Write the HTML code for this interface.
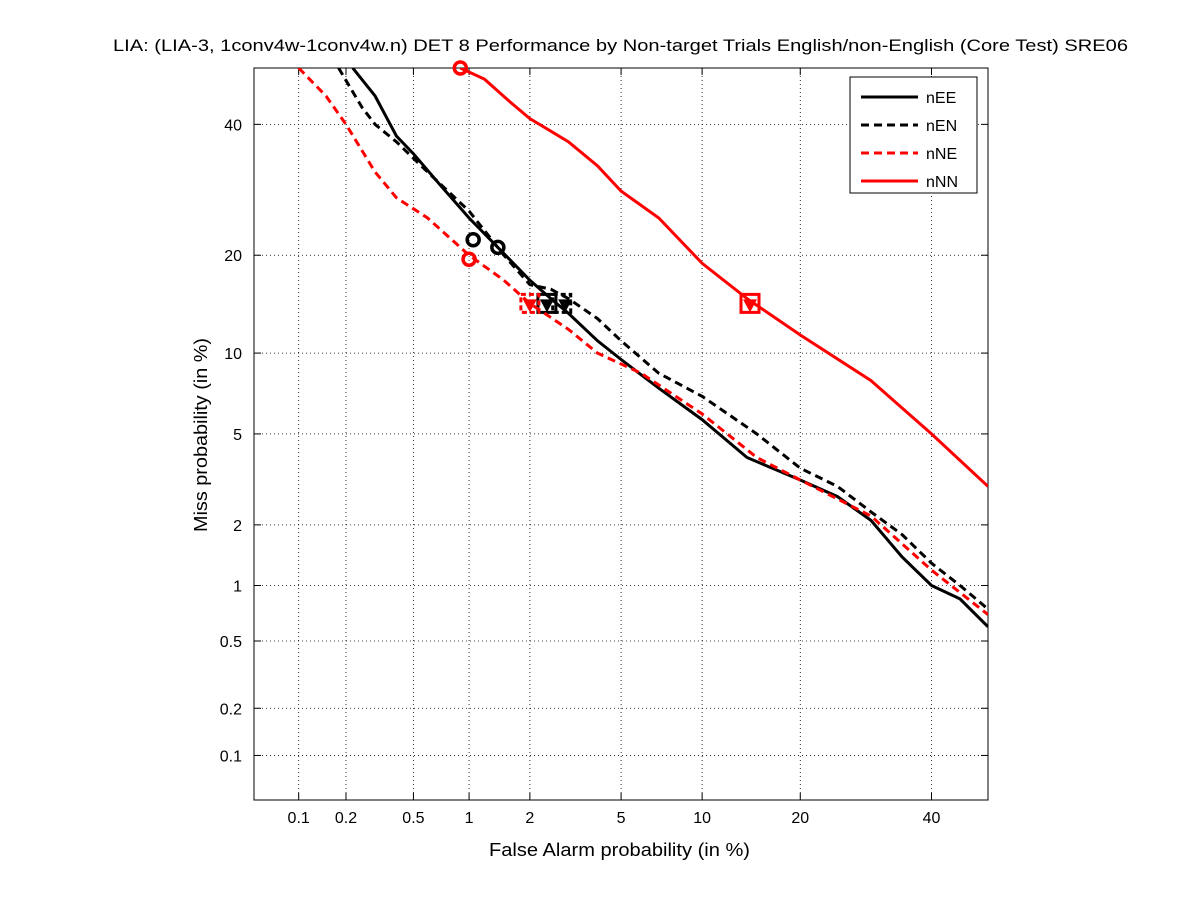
<!DOCTYPE html>
<html><head><meta charset="utf-8"><style>
body{margin:0;background:#fff;}
svg{display:block;font-family:"Liberation Sans",sans-serif;}
</style></head><body>
<svg id="chart" width="1201" height="900"></svg>
<script>
const xTicks=[0.1,0.2,0.5,1,2,5,10,20,40];
const xTickLabels=["0.1","0.2","0.5","1","2","5","10","20","40"];
const yTicks=[0.1,0.2,0.5,1,2,5,10,20,40];
const yTickLabels=["0.1","0.2","0.5","1","2","5","10","20","40"];
const seriesNames=["nEE","nEN","nNE","nNN"];
const nEE_fa=[0.22,0.3,0.4,0.5,0.7,1,1.4,2,2.5,3,4,5,7,10,14,20,25,30,35,40,45,50];
const nEE_miss=[50,45,38,35,30,25,21,17,15,13.5,11,9.5,7.5,5.7,4,3.2,2.7,2.1,1.4,1.0,0.85,0.6];
const nEN_fa=[0.18,0.25,0.3,0.4,0.6,1,1.5,2,2.5,3,4,5,7,10,15,20,25,30,35,40,45,50];
const nEN_miss=[50,43,40,37,32,26,20,16.5,16,15,13,11,8.5,7,5,3.6,3,2.3,1.8,1.3,1.0,0.75];
const nNE_fa=[0.1,0.15,0.2,0.3,0.4,0.6,1,1.5,2,3,4,6,10,15,20,30,40,50];
const nNE_miss=[50,45,40,32,28,25,20,17,14.5,12,10,8.5,6,4,3.2,2.2,1.2,0.7];
const nNN_fa=[0.9,1.2,1.6,2,3,4,5,7,10,14,20,30,40,50];
const nNN_miss=[50,48,44,41,37,33,29,25,19,15,11.5,8,5,3];
const circleFa=[1.4,1.05,1.0,0.9];
const circleMiss=[21,22,19.5,50];
const squareFa=[2.4,2.8,2.0,14.3];
const squareMiss=[14.5,14.5,14.5,14.5];
const triFa=[2.4,2.9,2.0,14.3];
const triMiss=[14.3,14.3,14.3,14.3];

function ninv(p){
 const a=[-39.69683028665376,220.9460984245205,-275.9285104469687,138.3577518672690,-30.66479806614716,2.506628277459239];
 const b=[-54.47609879822406,161.5858368580409,-155.6989798598866,66.80131188771972,-13.28068155288572];
 const c=[-0.007784894002430293,-0.3223964580411365,-2.400758277161838,-2.549732539343734,4.374664141464968,2.938163982698783];
 const d=[0.007784695709041462,0.3224671290700398,2.445134137142996,3.754408661907416];
 let q,r;
 if(p<0.02425){q=Math.sqrt(-2*Math.log(p));return (((((c[0]*q+c[1])*q+c[2])*q+c[3])*q+c[4])*q+c[5])/((((d[0]*q+d[1])*q+d[2])*q+d[3])*q+1);}
 if(p>1-0.02425){q=Math.sqrt(-2*Math.log(1-p));return -(((((c[0]*q+c[1])*q+c[2])*q+c[3])*q+c[4])*q+c[5])/((((d[0]*q+d[1])*q+d[2])*q+d[3])*q+1);}
 q=p-0.5;r=q*q;return (((((a[0]*r+a[1])*r+a[2])*r+a[3])*r+a[4])*r+a[5])*q/(((((b[0]*r+b[1])*r+b[2])*r+b[3])*r+b[4])*r+1);
}
const L=254,R=988,T=68,B=800,pmin=ninv(0.0005),pmax=0;
function X(v){return L+(ninv(v/100)-pmin)/(pmax-pmin)*(R-L);}
function Y(v){return B-(ninv(v/100)-pmin)/(pmax-pmin)*(B-T);}
const NS="http://www.w3.org/2000/svg",svg=document.getElementById('chart');
function el(t,a,parent){const e=document.createElementNS(NS,t);for(const k in a)e.setAttribute(k,a[k]);(parent||svg).appendChild(e);return e;}

let r=el('rect',{x:L,y:T,width:R-L,height:B-T,fill:'#fff',stroke:'none'});


xTicks.forEach((t,i)=>{
 const x=X(t);
 let g=el('line',{x1:x,x2:x,y1:T,y2:B,stroke:'#000','stroke-dasharray':'1,3','stroke-width':0.8});
 
 
 el('line',{x1:x,x2:x,y1:B,y2:B-7,stroke:'#000'});
 el('line',{x1:x,x2:x,y1:T,y2:T+7,stroke:'#000'});
 let tx=el('text',{x:x,y:B+23,'text-anchor':'middle','font-size':16});tx.textContent=xTickLabels[i];
 
 
});
yTicks.forEach((t,i)=>{
 const y=Y(t);
 let g=el('line',{x1:L,x2:R,y1:y,y2:y,stroke:'#000','stroke-dasharray':'1,3','stroke-width':0.8});
 
 
 el('line',{x1:L,x2:L+7,y1:y,y2:y,stroke:'#000'});
 el('line',{x1:R,x2:R-7,y1:y,y2:y,stroke:'#000'});
 let tx=el('text',{x:L-12,y:y+6,'text-anchor':'end','font-size':16});tx.textContent=yTickLabels[i];
 
 
});
let ax=el('rect',{x:L,y:T,width:R-L,height:B-T,fill:'none',stroke:'#000'});



const styles=[{c:'#000',d:''},{c:'#000',d:'8,5'},{c:'#f00',d:'8,5'},{c:'#f00',d:''}];
const fas=[nEE_fa,nEN_fa,nNE_fa,nNN_fa],ms=[nEE_miss,nEN_miss,nNE_miss,nNN_miss];
svg.appendChild(Object.assign(document.createElementNS(NS,'clipPath'),{id:'clp'}));
el('rect',{x:L,y:T,width:R-L,height:B-T},document.getElementById('clp'));
fas.forEach((f,i)=>{
 const pts=f.map((v,j)=>X(v).toFixed(1)+','+Y(ms[i][j]).toFixed(1)).join(' ');
 let pl=el('polyline',{points:pts,fill:'none',stroke:styles[i].c,'stroke-width':3,'stroke-dasharray':styles[i].d,'clip-path':'url(#clp)'});
 
 
 let c=el('circle',{cx:X(circleFa[i]),cy:Y(circleMiss[i]),r:6,fill:'none',stroke:styles[i].c,'stroke-width':3.5});
 
 
 const sx=X(squareFa[i]),sy=Y(squareMiss[i]);
 let s=el('rect',{x:sx-9,y:sy-9,width:18,height:18,fill:'none',stroke:styles[i].c,'stroke-width':3,'stroke-dasharray':styles[i].d?'5,3':''});
 
 
 const tx=X(triFa[i]),ty=Y(triMiss[i]);
 let tr=el('polygon',{points:`${tx-7},${ty-6} ${tx+7},${ty-6} ${tx},${ty+7}`,fill:styles[i].c});
 
 
});

const lg=el('g',{});


el('rect',{x:850,y:77,width:127,height:116,fill:'#fff',stroke:'#000'},lg);
seriesNames.forEach((n,i)=>{
 const y=97+i*28;
 const e=el('g',{},lg);
 
 
 el('line',{x1:861,x2:918,y1:y,y2:y,stroke:styles[i].c,'stroke-width':3,'stroke-dasharray':styles[i].d},e);
 const t=el('text',{x:926,y:y+6,'font-size':16},e);t.textContent=n;
});

let t1=el('text',{x:113,y:51,'font-size':17,textLength:1015,lengthAdjust:'spacingAndGlyphs'});
t1.textContent='LIA: (LIA-3, 1conv4w-1conv4w.n) DET 8 Performance by Non-target Trials English/non-English (Core Test) SRE06';


let t2=el('text',{x:489,y:856,'font-size':18,textLength:261,lengthAdjust:'spacingAndGlyphs'});
t2.textContent='False Alarm probability (in %)';


let t3=el('text',{x:207,y:532,'font-size':18,textLength:194,lengthAdjust:'spacingAndGlyphs',transform:'rotate(-90 207 532)'});
t3.textContent='Miss probability (in %)';


</script>
</body></html>
